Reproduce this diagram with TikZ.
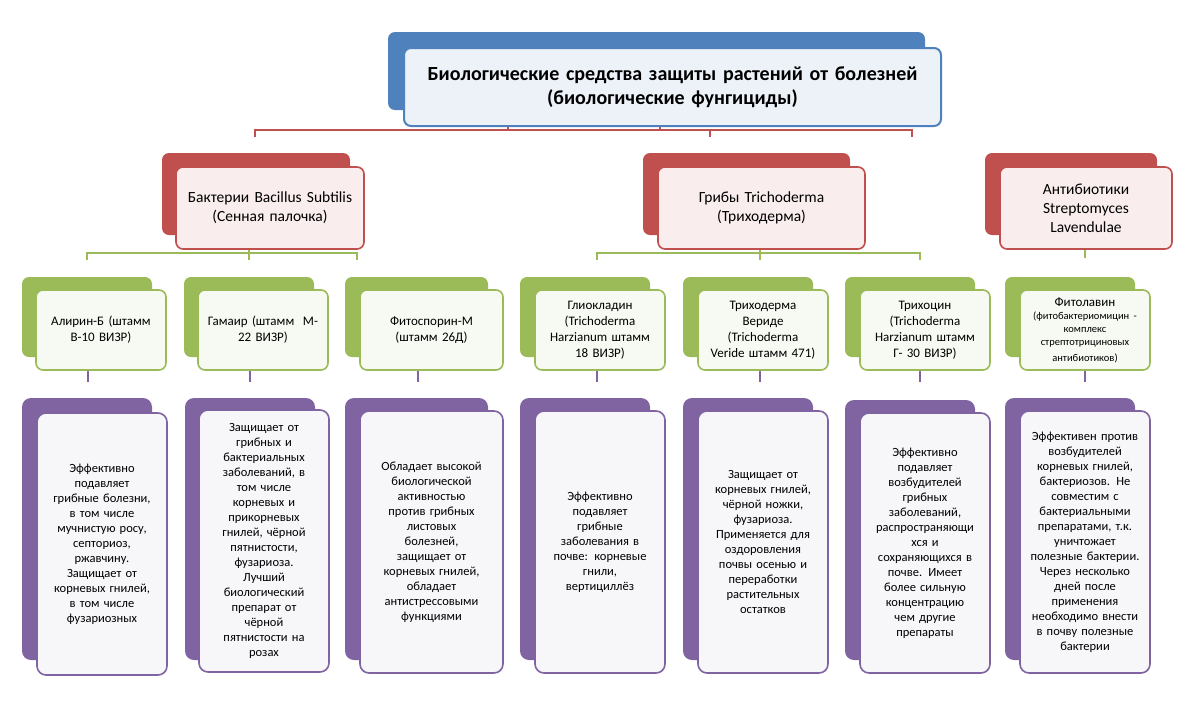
\documentclass[tikz,border=0pt]{standalone}
\usepackage{fontspec}
\setmainfont{Carlito}
\definecolor{cb}{HTML}{4F81BD}\definecolor{cr}{HTML}{C0504D}
\definecolor{cg}{HTML}{9BBB59}\definecolor{cp}{HTML}{8064A2}
\tikzset{
 backb/.style={fill=cb,rounded corners=7pt},
 frontb/.style={draw=cb,fill=cb!10,line width=2pt,rounded corners=7pt,font=\bfseries\fontsize{20}{24}\selectfont},
 backr/.style={fill=cr,rounded corners=7pt},
 frontr/.style={draw=cr,fill=cr!10,line width=1.6pt,rounded corners=7pt,font=\fontsize{15.5}{19}\selectfont},
 backg/.style={fill=cg,rounded corners=7pt},
 frontg/.style={draw=cg,fill=cg!8,line width=1.6pt,rounded corners=7pt,font=\fontsize{13}{16}\selectfont},
 backp/.style={fill=cp,rounded corners=9pt},
 frontp/.style={draw=cp,fill=cp!6,line width=1.6pt,rounded corners=9pt,font=\fontsize{12.5}{15}\selectfont},
 rl/.style={draw=cr,line width=1.8pt},
 gl/.style={draw=cg,line width=1.8pt},
 pl/.style={draw=cp,line width=1.8pt},
}
% #1 style suffix, #2 name, #3 x1, #4 y1, #5 x2, #6 y2 (back box), #7 dx, #8 dy, #9 text
\newcommand{\tierbox}[9]{%
 \fill[back#1] (#3,#4) rectangle (#5,#6);
 \pgfmathsetmacro\tw{#5-#3}\pgfmathsetmacro\th{#6-#4}
 \pgfmathsetmacro\tx{(#3+#5)/2+#7}\pgfmathsetmacro\ty{(#4+#6)/2+#8}
 \pgfmathsetmacro\tt{#5-#3-8}
 \node[front#1,minimum width=\tw pt,minimum height=\th pt,text width=\tt pt,inner xsep=4pt,align=center] (#2) at (\tx,\ty) {#9};}
\begin{document}
\begin{tikzpicture}[x=1pt,y=-1pt]
\useasboundingbox (0,0) rectangle (1200,710);
\fill[white] (0,0) rectangle (1200,710);
% connectors (drawn first)
\draw[rl] (508,115) -- (508,130); \draw[rl] (660,115) -- (660,130);
\draw[rl] (255,137) -- (255,130) -- (912,130) -- (912,137);
\draw[rl] (710,130) -- (710,137);
\draw[gl] (87,260) -- (87,253) -- (357,253) -- (357,260); \draw[gl] (249,240) -- (249,260);
\draw[gl] (597,260) -- (597,253) -- (920,253) -- (920,260); \draw[gl] (760,240) -- (760,260);
\draw[gl] (1085,240) -- (1085,258);
\foreach \x in {88,250,418,597,760,920,1085} \draw[pl] (\x,360) -- (\x,382);
% title
\tierbox{b}{T}{388}{32}{925}{110}{16}{16}{Биологические средства защиты растений от болезней\\(биологические фунгициды)}
% level 2
\tierbox{r}{B}{162}{153}{350}{235}{14}{14}{Бактерии Bacillus Subtilis\\(Сенная палочка)}
\tierbox{r}{Tr}{643}{153}{850}{235}{15}{14}{Грибы Trichoderma\\(Триходерма)}
\tierbox{r}{A}{985}{153}{1157}{235}{15}{14}{Антибиотики\\Streptomyces\\Lavendulae}
% level 3
\tierbox{g}{G1}{22}{277}{152}{357}{14}{13}{Алирин-Б (штамм\\В-10 ВИЗР)}
\tierbox{g}{G2}{184}{277}{314}{357}{14}{13}{Гамаир (штамм~~М-\\22 ВИЗР)}
\tierbox{g}{G3}{345}{277}{488}{357}{15}{13}{Фитоспорин-М\\(штамм 26Д)}
\tierbox{g}{G4}{520}{277}{650}{357}{15}{13}{Глиокладин\\(Trichoderma\\Harzianum штамм\\18 ВИЗР)}
\tierbox{g}{G5}{683}{277}{813}{357}{15}{13}{Триходерма\\Вериде\\(Trichoderma\\Veride штамм 471)}
\tierbox{g}{G6}{845}{277}{975}{357}{15}{13}{Трихоцин\\(Trichoderma\\Harzianum штамм\\Г- 30 ВИЗР)}
\tierbox{g}{G7}{1005}{277}{1135}{357}{15}{13}{Фитолавин\\{\fontsize{10.5}{13}\selectfont(фитобактериомицин -\\комплекс\\стрептотрициновых\\антибиотиков)}}
% level 4
\tierbox{p}{P1}{22}{398}{152}{660}{15}{15}{Эффективно\\подавляет\\грибные болезни,\\в том числе\\мучнистую росу,\\септориоз,\\ржавчину.\\Защищает от\\корневых гнилей,\\в том числе\\фузариозных}
\tierbox{p}{P2}{185}{398}{315}{660}{14}{12}{Защищает от\\грибных и\\бактериальных\\заболеваний, в\\том числе\\корневых и\\прикорневых\\гнилей, чёрной\\пятнистости,\\фузариоза.\\Лучший\\биологический\\препарат от\\чёрной\\пятнистости на\\розах}
\tierbox{p}{P3}{345}{398}{488}{660}{15}{13}{Обладает высокой\\биологической\\активностью\\против грибных\\листовых\\болезней,\\защищает от\\корневых гнилей,\\обладает\\антистрессовыми\\функциями}
\tierbox{p}{P4}{520}{398}{650}{660}{15}{13}{Эффективно\\подавляет\\грибные\\заболевания в\\почве: корневые\\гнили,\\вертициллёз}
\tierbox{p}{P5}{683}{398}{813}{660}{15}{13}{Защищает от\\корневых гнилей,\\чёрной ножки,\\фузариоза.\\Применяется для\\оздоровления\\почвы осенью и\\переработки\\растительных\\остатков}
\tierbox{p}{P6}{845}{400}{975}{660}{15}{13}{Эффективно\\подавляет\\возбудителей\\грибных\\заболеваний,\\распространяющи\\хся и\\сохраняющихся в\\почве. Имеет\\более сильную\\концентрацию\\чем другие\\препараты}
\tierbox{p}{P7}{1005}{398}{1135}{660}{15}{13}{Эффективен против\\возбудителей\\корневых гнилей,\\бактериозов. Не\\совместим с\\бактериальными\\препаратами, т.к.\\уничтожает\\полезные бактерии.\\Через несколько\\дней после\\применения\\необходимо внести\\в почву полезные\\бактерии}
\end{tikzpicture}
\end{document}
